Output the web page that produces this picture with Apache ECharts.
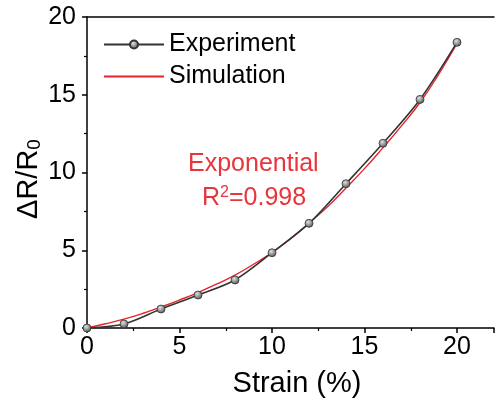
<!DOCTYPE html>
<html><head><meta charset="utf-8">
<script src="https://cdn.jsdelivr.net/npm/echarts@6/dist/echarts.min.js"></script>
<style>html,body{margin:0;padding:0;background:#fff}#c{width:497px;height:408px}</style>
</head><body><div id="c"></div>
<script>
const strainExp = [0, 2, 4, 6, 8, 10, 12, 14, 16, 18, 20];
const resistExp = [0, 0.26, 1.22, 2.12, 3.09, 4.84, 6.73, 9.28, 11.88, 14.7, 18.37];
const strainSim = [0,1,2,3,4,5,6,7,8,9,10,11,12,13,14,15,16,17,18,19,20];
const resistSim = [0,0.27,0.57,0.93,1.35,1.8,2.28,2.82,3.4,4.1,4.85,5.75,6.75,7.8,9.0,10.25,11.6,13.0,14.5,16.3,18.3];
const xTicks = [0,5,10,15,20];
const yTicks = [0,5,10,15,20];

const font = 'Liberation Sans, Arial, sans-serif';
const chart = echarts.init(document.getElementById('c'));
const pair = (xs, ys) => xs.map((x, i) => [x, ys[i]]);
chart.setOption({
  animation: false,
  grid: {left: 87, top: 17, right: 0, bottom: 80},
  legend: {
    left: 98, top: 27, orient: 'vertical', itemWidth: 60, itemHeight: 10, itemGap: 7,
    textStyle: {fontFamily: font, fontSize: 25, color: '#000'},
    data: [{name: 'Experiment'}, {name: 'Simulation', itemStyle: {opacity: 0}}]
  },
  xAxis: [{
    type: 'value', min: 0, max: 22, interval: 5,
    axisLine: {lineStyle: {color: '#000', width: 1.5}},
    axisTick: {show: true, length: 5, lineStyle: {color: '#000', width: 1.5}},
    minorTick: {show: true, splitNumber: 2, length: 3, lineStyle: {color: '#000', width: 1.2}},
    axisLabel: {fontFamily: font, fontSize: 25, color: '#000', margin: 7,
      formatter: v => xTicks.includes(v) ? String(v) : ''},
    splitLine: {show: false}
  }, {
    type: 'value', position: 'top', min: 0, max: 22,
    axisLine: {show: true, lineStyle: {color: '#000', width: 1.5}},
    axisTick: {show: false}, axisLabel: {show: false}, splitLine: {show: false}
  }],
  yAxis: {
    type: 'value', min: 0, max: 20, interval: 5,
    axisLine: {show: true, lineStyle: {color: '#000', width: 1.5}},
    axisTick: {show: true, length: 5, lineStyle: {color: '#000', width: 1.5}},
    minorTick: {show: true, splitNumber: 2, length: 3, lineStyle: {color: '#000', width: 1.2}},
    axisLabel: {fontFamily: font, fontSize: 25, color: '#000', margin: 11,
      formatter: v => yTicks.includes(v) ? String(v) : ''},
    splitLine: {show: false}
  },
  series: [{
    name: 'Simulation', type: 'line', smooth: true, showSymbol: false, symbol: 'none',
    data: pair(strainSim, resistSim), z: 2,
    lineStyle: {color: '#e4232b', width: 1.4},
    itemStyle: {color: '#e4232b'}
  }, {
    name: 'Experiment', type: 'line', smooth: 0.3, symbol: 'circle', symbolSize: 8,
    data: pair(strainExp, resistExp), z: 3,
    lineStyle: {color: '#333', width: 1.6},
    itemStyle: {
      color: new echarts.graphic.RadialGradient(0.4, 0.35, 0.7, [
        {offset: 0, color: '#e0e0e0'}, {offset: 1, color: '#4a4a4a'}]),
      borderColor: '#333', borderWidth: 0.8
    }
  }],
  graphic: [{
    type: 'text', x: 297, y: 384,
    style: {text: 'Strain (%)', fontFamily: font, fontSize: 29, fill: '#000', align: 'center', verticalAlign: 'middle'}
  }, {
    type: 'text', x: 29, y: 179, rotation: Math.PI / 2,
    style: {
      text: '{a|ΔR/R}{s|0}', align: 'center', verticalAlign: 'middle',
      rich: {
        a: {fontFamily: font, fontSize: 29, fill: '#000', color: '#000'},
        s: {fontFamily: font, fontSize: 19, fill: '#000', color: '#000', verticalAlign: 'bottom', padding: [12,0,0,0]}
      }
    }
  }, {
    type: 'text', left: 188, top: 152,
    style: {text: 'Exponential', fontFamily: font, fontSize: 25, fill: '#e8353b'}
  }, {
    type: 'text', left: 202, top: 185,
    style: {
      text: '{a|R}{p|2}{a|=0.998}',
      rich: {
        a: {fontFamily: font, fontSize: 25, fill: '#e8353b', color: '#e8353b'},
        p: {fontFamily: font, fontSize: 16, fill: '#e8353b', color: '#e8353b', verticalAlign: 'top', padding: [0,0,10,0]}
      }
    }
  }]
});
</script></body></html>
